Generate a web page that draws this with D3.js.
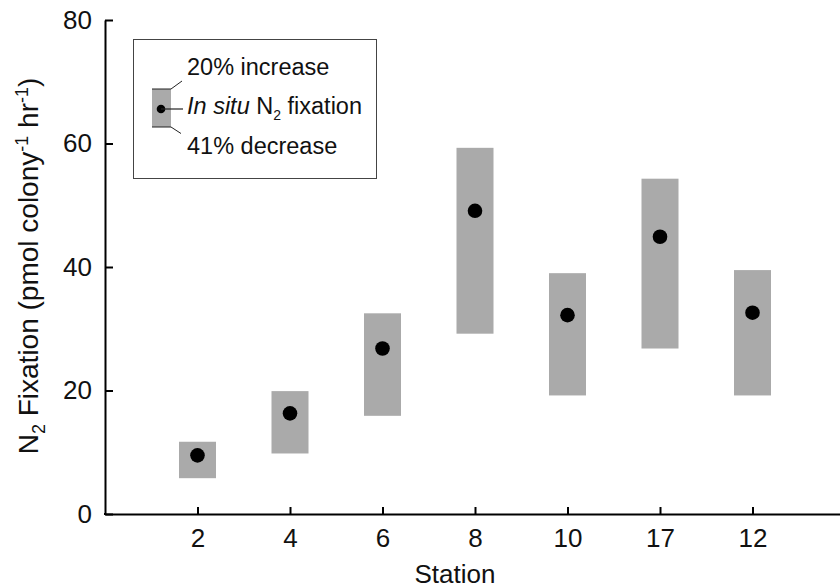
<!DOCTYPE html>
<html>
<head>
<meta charset="utf-8">
<script src="https://cdn.jsdelivr.net/npm/d3@7"></script>
<style>
  body { margin: 0; background: #fff; }
  svg { display: block; font-family: "Liberation Sans", Arial, sans-serif; }
</style>
</head>
<body>
<svg id="chart"></svg>
<script>
// N2 fixation per station — in situ value with +20% / -41% range boxes

const stations = ['2', '4', '6', '8', '10', '17', '12'];
const inSitu   = [9.5, 16.3, 26.8, 49.1, 32.2, 44.9, 32.6];
const upper    = [11.7, 19.9, 32.5, 59.3, 39.0, 54.3, 39.5];
const lower    = [5.8, 9.8, 15.9, 29.2, 19.2, 26.8, 19.2];
const yTicks   = [0, 20, 40, 60, 80];

const W = 840, H = 588;
const BAR_FILL = '#aaaaaa';

const svg = d3.select('#chart').attr('width', W).attr('height', H);

// ── Scales ───────────────────────────────────────────────────────────────
const x = d3.scalePoint().domain(stations).range([105, 845]).padding(1);
const y = d3.scaleLinear().domain([0, 80]).range([514, 20]);

const rows = stations.map((s, i) => ({ s, v: inSitu[i], hi: upper[i], lo: lower[i] }));

// ── Range boxes + dots ───────────────────────────────────────────────────
const barW = 37;
svg.append('g').selectAll('rect')
    .data(rows)
    .join('rect')
    .attr('x', d => x(d.s) - barW / 2)
    .attr('width', barW)
    .attr('y', d => y(d.hi))
    .attr('height', d => y(d.lo) - y(d.hi))
    .attr('fill', BAR_FILL);

svg.append('g').selectAll('circle')
    .data(rows)
    .join('circle')
    .attr('cx', d => x(d.s))
    .attr('cy', d => y(d.v))
    .attr('r', 7.3)
    .attr('fill', '#000');

// ── Axes (ticks point inward) ────────────────────────────────────────────
const xAxis = svg.append('g')
    .attr('transform', `translate(0,${y(0)})`)
    .call(d3.axisBottom(x).tickSizeInner(-7).tickSizeOuter(0).tickPadding(15));

const yAxis = svg.append('g')
    .attr('transform', 'translate(105,0)')
    .call(d3.axisLeft(y).tickValues(yTicks).tickSizeInner(-8).tickSizeOuter(0).tickPadding(13));

[xAxis, yAxis].forEach(g => {
    g.select('.domain').attr('stroke', '#000').attr('stroke-width', 2);
    g.selectAll('.tick line').attr('stroke', '#000').attr('stroke-width', 2);
    g.selectAll('.tick text')
        .attr('fill', '#111')
        .attr('font-size', 26)
        .attr('font-family', '"Liberation Sans", Arial, sans-serif');
});
// square corner where the axes meet
svg.append('rect').attr('x', 104).attr('y', 513).attr('width', 2).attr('height', 2).attr('fill', '#000');

// ── Axis titles ──────────────────────────────────────────────────────────
svg.append('text')
    .attr('x', 455).attr('y', 583)
    .attr('text-anchor', 'middle')
    .attr('font-size', 26)
    .attr('fill', '#111')
    .text('Station');

const yTitle = svg.append('text')
    .attr('transform', 'translate(38,266) rotate(-90)')
    .attr('text-anchor', 'middle')
    .attr('font-size', 28)
    .attr('fill', '#111');
yTitle.append('tspan').text('N');
yTitle.append('tspan').attr('font-size', 18).attr('dy', 7).text('2');
yTitle.append('tspan').attr('dy', -7).text(' Fixation (pmol colony');
yTitle.append('tspan').attr('font-size', 18).attr('dy', -10).text('-1');
yTitle.append('tspan').attr('dy', 10).text(' hr');
yTitle.append('tspan').attr('font-size', 18).attr('dy', -10).text('-1');
yTitle.append('tspan').attr('dy', 10).text(')');

// ── Legend box ───────────────────────────────────────────────────────────
const leg = svg.append('g');
leg.append('rect')
    .attr('x', 133.5).attr('y', 39.5).attr('width', 243).attr('height', 139)
    .attr('fill', '#fff').attr('stroke', '#444').attr('stroke-width', 1);

leg.append('rect')
    .attr('x', 152).attr('y', 89).attr('width', 19).attr('height', 38)
    .attr('fill', BAR_FILL);
leg.append('line').attr('x1', 152).attr('x2', 171).attr('y1', 89).attr('y2', 89).attr('stroke', '#222');
leg.append('line').attr('x1', 152).attr('x2', 171).attr('y1', 127).attr('y2', 127).attr('stroke', '#222');
leg.append('circle').attr('cx', 161).attr('cy', 109).attr('r', 4.3).attr('fill', '#000');
leg.append('line').attr('x1', 161).attr('x2', 183).attr('y1', 109).attr('y2', 109).attr('stroke', '#222').attr('stroke-width', 1.2);
leg.append('line').attr('x1', 171).attr('y1', 89).attr('x2', 182).attr('y2', 81).attr('stroke', '#222');
leg.append('line').attr('x1', 171).attr('y1', 127).attr('x2', 181).attr('y2', 133.5).attr('stroke', '#222');

const legText = (yy) => leg.append('text').attr('x', 187).attr('y', yy)
    .attr('font-size', 23.5).attr('fill', '#111');
legText(75).text('20% increase');
const mid = legText(114);
mid.append('tspan').attr('font-style', 'italic').text('In situ');
mid.append('tspan').text(' N');
mid.append('tspan').attr('font-size', 14).attr('dy', 6).text('2');
mid.append('tspan').attr('dy', -6).text(' fixation');
legText(154).text('41% decrease');
</script>
</body>
</html>
